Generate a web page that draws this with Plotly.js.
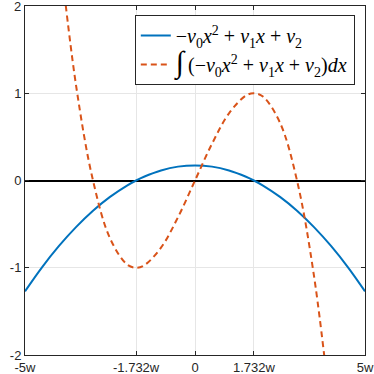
<!DOCTYPE html>
<html>
<head>
<meta charset="utf-8">
<script src="https://cdn.plot.ly/plotly-3.0.1.min.js"></script>
<style>
  html, body { margin: 0; padding: 0; background: #fff; }
  #chart { width: 374px; height: 374px; }
</style>
</head>
<body>
<div id="chart"></div>
<script>
// values
const xs = [-5, -4.5, -4, -3.5, -3, -2.5, -2, -1.732, -1.5, -1, -0.5, 0,
            0.5, 1, 1.5, 1.732, 2, 2.5, 3, 3.5, 4, 4.5, 5];
const quadVals = [-1.27, -0.995, -0.75, -0.534, -0.346, -0.188, -0.058, 0, 0.043, 0.115, 0.159, 0.173,
                  0.159, 0.115, 0.043, 0, -0.058, -0.188, -0.346, -0.534, -0.75, -0.995, -1.27];
const intXs = [-4, -3.5, -3, -2.5, -2, -1.732, -1.5, -1, -0.5, 0,
               0.5, 1, 1.5, 1.732, 2, 2.5, 3, 3.5, 4];
const intVals = [2.69, 1.094, 0, -0.662, -0.962, -1, -0.974, -0.77, -0.421, 0,
                 0.421, 0.77, 0.974, 1, 0.962, 0.662, 0, -1.094, -2.69];

const xTickVals = [-5, -1.732, 0, 1.732, 5];
const xTickText = ['-5w', '-1.732w', '0', '1.732w', '5w'];
const yTickVals = [-2, -1, 0, 1, 2];
const yTickText = ['-2', '-1', '0', '1', ''];
const yTopLabel = '2';

const quadName = '\u2212<i>\u03bd</i><sub>0</sub><i>x</i><sup>2</sup> + <i>\u03bd</i><sub>1</sub><i>x</i> + <i>\u03bd</i><sub>2</sub>';
const intName = '<span style="font-size:30px">\u222b</span>\u2009(\u2212<i>\u03bd</i><sub>0</sub><i>x</i><sup>2</sup> + <i>\u03bd</i><sub>1</sub><i>x</i> + <i>\u03bd</i><sub>2</sub>)<i>dx</i>';

const traces = [
  {
    x: xs, y: quadVals, name: quadName,
    type: 'scatter', mode: 'lines',
    line: { color: '#0072BD', width: 2, shape: 'spline' }
  },
  {
    x: intXs, y: intVals, name: intName,
    type: 'scatter', mode: 'lines',
    line: { color: '#D95319', width: 2, shape: 'spline', dash: '6px,4px' }
  }
];

const axisFont = { family: 'Liberation Sans, Arial, sans-serif', size: 13, color: '#262626' };

const layout = {
  width: 374,
  height: 374,
  margin: { l: 25, r: 9, t: 6, b: 19 },
  paper_bgcolor: '#ffffff',
  plot_bgcolor: '#ffffff',
  showlegend: true,
  legend: {
    x: 0.97, y: 0.974, xanchor: 'right', yanchor: 'top',
    bgcolor: '#ffffff', bordercolor: '#262626', borderwidth: 1,
    font: { family: 'Liberation Serif, DejaVu Serif, serif', size: 20, color: '#000' },
    itemwidth: 30, tracegroupgap: 0
  },
  // top y label drawn separately, the axis drops it at the edge
  annotations: [{
    text: yTopLabel, xref: 'paper', yref: 'y', x: 0, y: 2,
    xanchor: 'right', yanchor: 'middle', xshift: -2, showarrow: false,
    font: axisFont
  }],
  xaxis: {
    range: [-5, 5],
    tickvals: xTickVals, ticktext: xTickText,
    ticks: 'inside', ticklen: 4, tickcolor: '#262626',
    showline: true, linecolor: '#262626', linewidth: 1, mirror: 'ticks',
    showgrid: true, gridcolor: '#e6e6e6', gridwidth: 1,
    zeroline: false,
    tickfont: axisFont
  },
  yaxis: {
    range: [-2, 2],
    tickvals: yTickVals, ticktext: yTickText,
    ticks: 'inside', ticklen: 4, tickcolor: '#262626',
    showline: true, linecolor: '#262626', linewidth: 1, mirror: 'ticks',
    showgrid: true, gridcolor: '#e6e6e6', gridwidth: 1,
    zeroline: true, zerolinecolor: '#000000', zerolinewidth: 2,
    tickfont: axisFont
  }
};

Plotly.newPlot('chart', traces, layout, { displayModeBar: false, staticPlot: true });
</script>
</body>
</html>
